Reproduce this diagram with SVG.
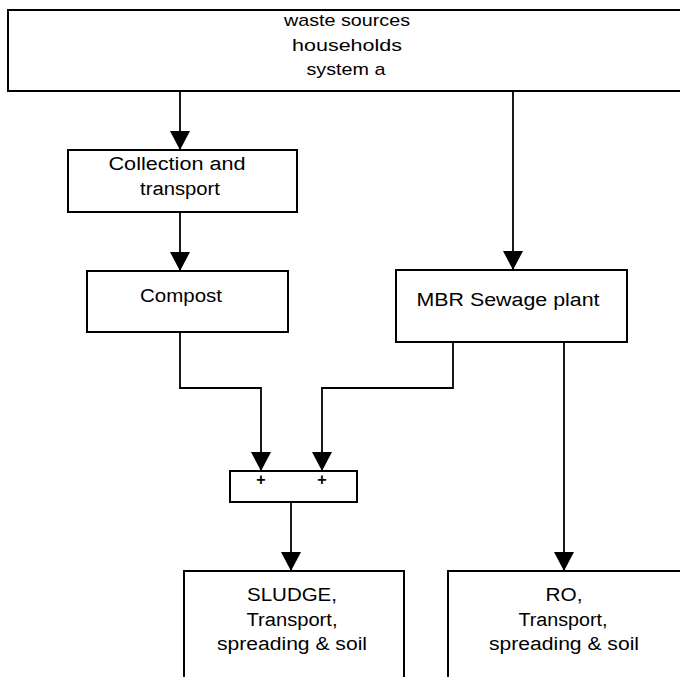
<svg xmlns="http://www.w3.org/2000/svg" width="680" height="677" viewBox="0 0 680 677">
  <style>
    .box { fill: #ffffff; stroke: #000000; stroke-width: 2; }
    .lbl { font-family: "Liberation Sans", Arial, sans-serif; font-size: 18px; fill: #000000; text-anchor: middle; }
    .top { font-size: 17px; }
    .plus { font-family: "Liberation Sans", Arial, sans-serif; font-size: 16px; font-weight: bold; fill: #000000; text-anchor: middle; }
    .wire { fill: none; stroke: #000000; stroke-width: 1.8; }
  </style>
  <defs>
    <marker id="arrow" viewBox="0 0 19 20" refX="19" refY="10" markerWidth="19" markerHeight="20" markerUnits="userSpaceOnUse" orient="auto">
      <path d="M0,0 L19,10 L0,20 Z" fill="#000000"/>
    </marker>
  </defs>
  <rect width="680" height="677" fill="#ffffff"/>

  <!-- flow lines -->
  <g id="connectors">
    <path class="wire" d="M180,87 V150" marker-end="url(#arrow)"/>
    <path class="wire" d="M513,87 V270" marker-end="url(#arrow)"/>
    <path class="wire" d="M180,208 V271" marker-end="url(#arrow)"/>
    <path class="wire" d="M180,328 V388 H261 V471" marker-end="url(#arrow)"/>
    <path class="wire" d="M453,338 V388 H322 V471" marker-end="url(#arrow)"/>
    <path class="wire" d="M564,338 V571" marker-end="url(#arrow)"/>
    <path class="wire" d="M291,498 V571" marker-end="url(#arrow)"/>
  </g>

  <g id="waste-sources">
    <rect class="box" x="8" y="10" width="690" height="81"/>
    <text class="lbl top" x="347" y="26" textLength="126" lengthAdjust="spacingAndGlyphs">waste sources</text>
    <text class="lbl top" x="347" y="51" textLength="110" lengthAdjust="spacingAndGlyphs">households</text>
    <text class="lbl top" x="346" y="75" textLength="79" lengthAdjust="spacingAndGlyphs">system a</text>
  </g>

  <g id="collection">
    <rect class="box" x="68" y="150" width="229" height="62"/>
    <text class="lbl" x="177" y="170" textLength="137" lengthAdjust="spacingAndGlyphs">Collection and</text>
    <text class="lbl" x="180" y="195" textLength="80" lengthAdjust="spacingAndGlyphs">transport</text>
  </g>

  <g id="compost">
    <rect class="box" x="87" y="271" width="201" height="61"/>
    <text class="lbl" x="181" y="302" textLength="82" lengthAdjust="spacingAndGlyphs">Compost</text>
  </g>

  <g id="mbr-plant">
    <rect class="box" x="396" y="270" width="231" height="72"/>
    <text class="lbl" x="508" y="306" textLength="183" lengthAdjust="spacingAndGlyphs">MBR Sewage plant</text>
  </g>

  <g id="sum">
    <rect class="box" x="230" y="471" width="127" height="31"/>
    <text class="plus" x="261" y="485">+</text>
    <text class="plus" x="322" y="485">+</text>
  </g>

  <g id="sludge">
    <rect class="box" x="184" y="571" width="220" height="120"/>
    <text class="lbl" x="292" y="601" textLength="90" lengthAdjust="spacingAndGlyphs">SLUDGE,</text>
    <text class="lbl" x="292" y="626" textLength="91" lengthAdjust="spacingAndGlyphs">Transport,</text>
    <text class="lbl" x="292" y="650" textLength="150" lengthAdjust="spacingAndGlyphs">spreading &amp; soil</text>
  </g>

  <g id="ro">
    <rect class="box" x="448" y="571" width="250" height="120"/>
    <text class="lbl" x="564" y="601" textLength="37" lengthAdjust="spacingAndGlyphs">RO,</text>
    <text class="lbl" x="563" y="626" textLength="89" lengthAdjust="spacingAndGlyphs">Transport,</text>
    <text class="lbl" x="564" y="650" textLength="150" lengthAdjust="spacingAndGlyphs">spreading &amp; soil</text>
  </g>
</svg>
